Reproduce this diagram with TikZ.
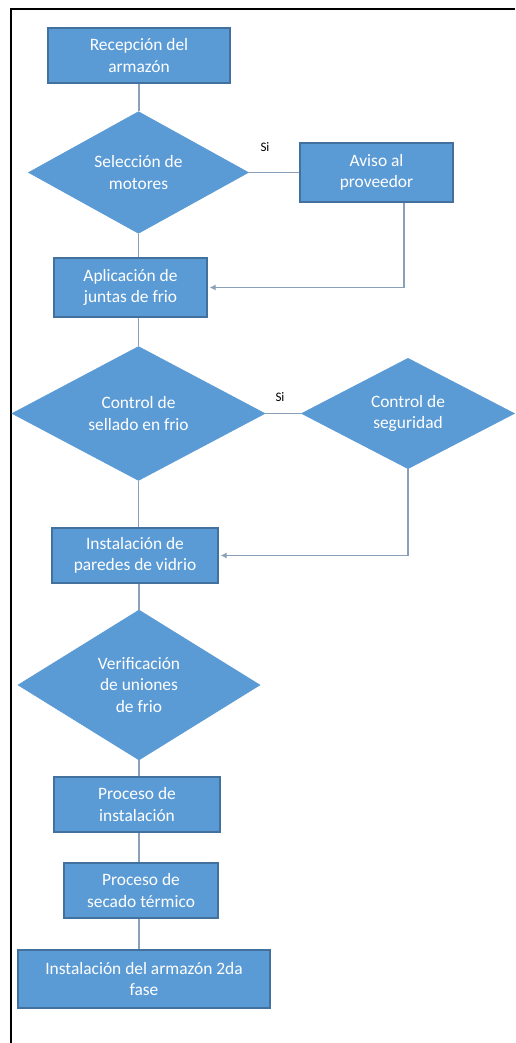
\documentclass[tikz,border=0pt]{standalone}
\usepackage{fontspec}
\setmainfont{Carlito}
\usetikzlibrary{shapes.geometric,arrows.meta,calc}
\definecolor{boxfill}{HTML}{5B9BD5}
\definecolor{boxline}{HTML}{41719C}
\definecolor{wire}{HTML}{8A9FB8}
\tikzset{
  procbox/.style={rectangle, fill=boxfill, draw=boxline, line width=1.2pt,
    text=white, align=center, inner sep=0pt,
    font=\fontsize{17.4}{21.5}\selectfont},
  decision/.style={diamond, fill=boxfill, draw=boxfill, line width=0.6pt,
    text=white, align=center, inner sep=0pt,
    font=\fontsize{17.4}{21.5}\selectfont},
  wireline/.style={draw=wire, line width=1.7pt},
  backarrow/.style={wireline, -{Latex[length=6pt,width=6pt]}, shorten >=2pt},
  yeslabel/.style={font=\fontsize{13}{15}\selectfont, text=black, inner sep=0pt}
}
\begin{document}
\begin{tikzpicture}[x=1pt, y=-1pt]
  \useasboundingbox (0,0) rectangle (515,1043);
  \fill[white] (0,0) rectangle (515,1043);
  % page frame
  \draw[line width=1.6pt, black] (11,1043) -- (11,9) -- (515,9);

  % process steps and decisions
  \node[procbox, minimum width=182pt, minimum height=55pt] (b1) at (139,55.5)
    {Recepción del\\armazón};
  \node[decision, minimum width=220pt, minimum height=111pt] (d1) at (138.5,172.5)
    {Selección de\\motores};
  \node[procbox, minimum width=153pt, minimum height=59pt] (b2) at (376.5,172.5)
    {Aviso al\\proveedor};
  \node[procbox, minimum width=153pt, minimum height=59pt] (b3) at (130.5,287.5)
    {Aplicación de\\juntas de frio};
  \node[decision, minimum width=253pt, minimum height=127pt] (d2) at (138.5,413.5)
    {Control de\\sellado en frio};
  \node[decision, minimum width=213pt, minimum height=110pt] (d3) at (408,413.5)
    {Control de\\seguridad};
  \node[procbox, minimum width=166pt, minimum height=55pt] (b4) at (135,555.5)
    {Instalación de\\paredes de vidrio};
  \node[decision, minimum width=242pt, minimum height=150pt] (d4) at (139,685)
    {Verificación\\de uniones\\de frio};
  \node[procbox, minimum width=166pt, minimum height=55pt] (b5) at (137,804.5)
    {Proceso de\\instalación};
  \node[procbox, minimum width=154pt, minimum height=55pt] (b6) at (141,890.5)
    {Proceso de\\secado térmico};
  \node[procbox, minimum width=252pt, minimum height=58pt] (b7) at (144,979)
    {Instalación del armazón 2da\\fase};

  % main flow
  \draw[wireline] (b1.south) -- (b1.south |- d1.north);
  \draw[wireline] (d1.south) -- (d1.south |- b3.north);
  \draw[wireline] (d1.south |- b3.south) -- (d2.north);
  \draw[wireline] (d2.south) -- (d2.south |- b4.north);
  \draw[wireline] (d4.north |- b4.south) -- (d4.north);
  \draw[wireline] (d4.south) -- (d4.south |- b5.north);
  \draw[wireline] (d4.south |- b5.south) -- (d4.south |- b6.north);
  \draw[wireline] (d4.south |- b6.south) -- (d4.south |- b7.north);

  % "Si" branches
  \draw[wireline] (d1.east) -- (b2.west);
  \node[yeslabel] (si1) at (265,147) {Si};
  \draw[backarrow] ([xshift=27.5pt]b2.south) |- (b3.east);

  \draw[wireline] (d2.east) -- (d3.west);
  \node[yeslabel] (si2) at (280,397) {Si};
  \draw[backarrow] (d3.south) |- (b4.east);
\end{tikzpicture}
\end{document}
